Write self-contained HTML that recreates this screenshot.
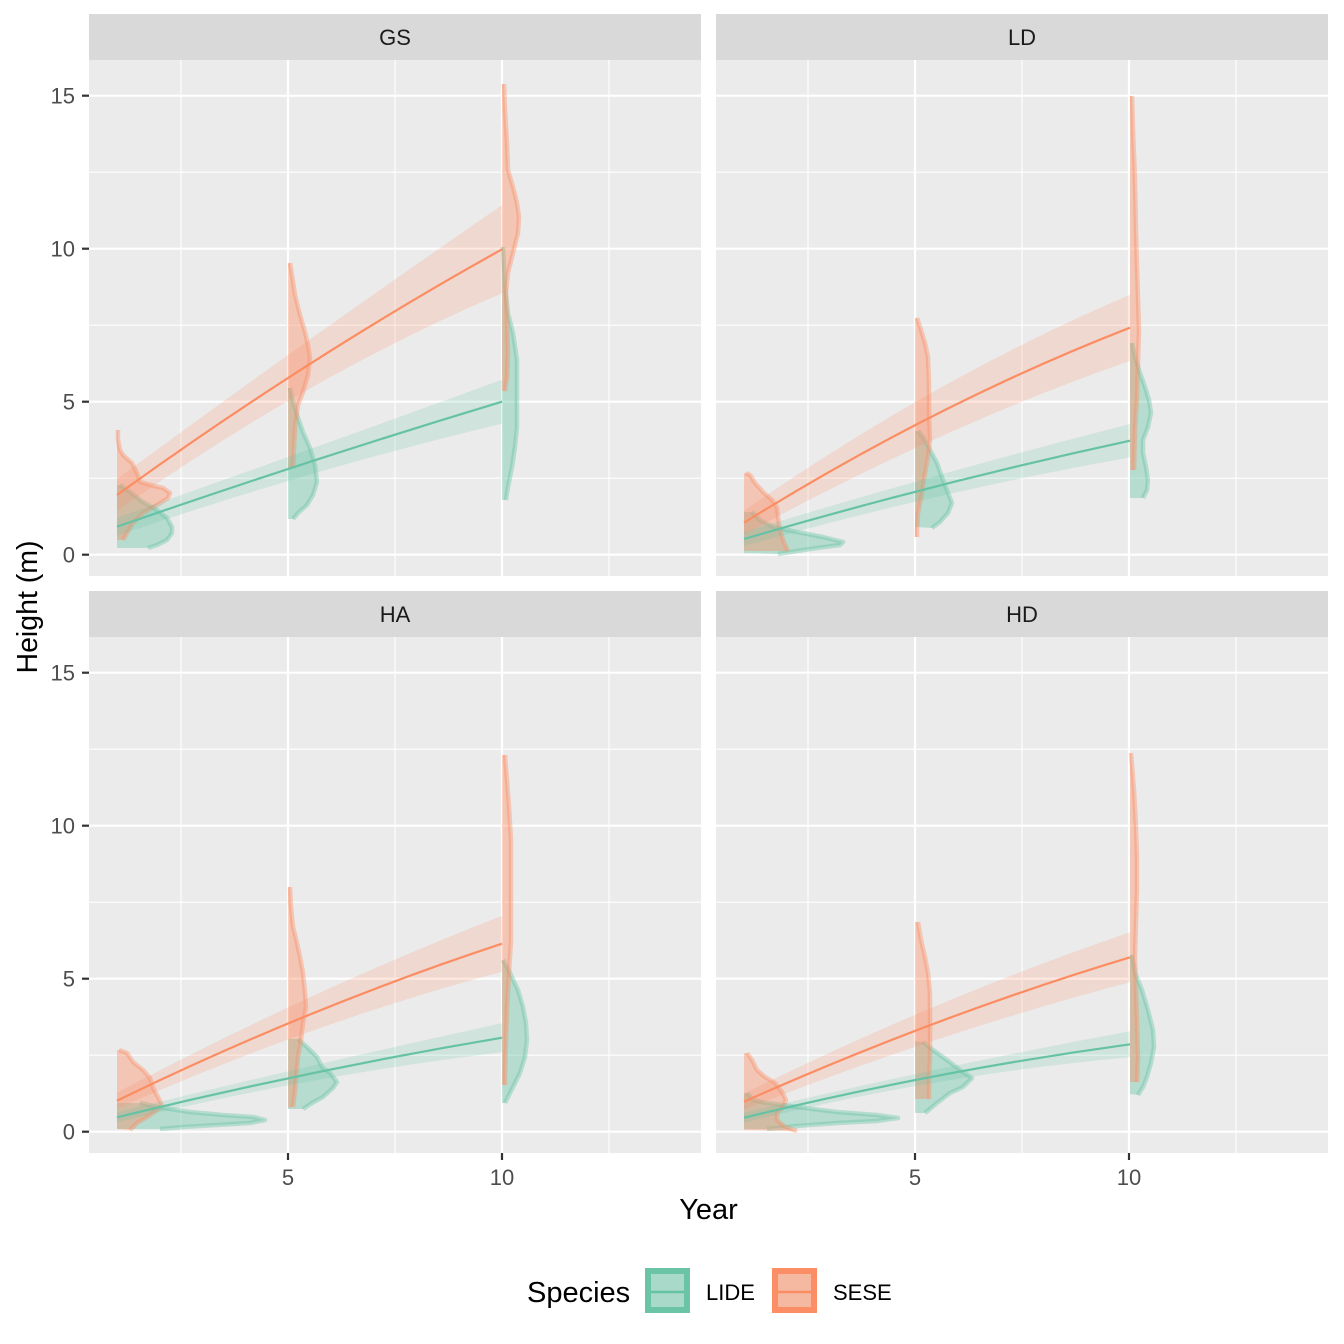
<!DOCTYPE html>
<html>
<head>
<meta charset="utf-8">
<style>
  html, body { margin: 0; padding: 0; background: #ffffff; }
  svg { display: block; }
  text { font-family: "Liberation Sans", Arial, sans-serif; }
</style>
</head>
<body>
<svg width="1344" height="1344" viewBox="0 0 1344 1344" xmlns="http://www.w3.org/2000/svg">
  <defs>
    <g id="panelbg">
      <rect x="0" y="0" width="612" height="516" fill="#EBEBEB"/>
      <g stroke="#FFFFFF" stroke-width="1.1" fill="none">
        <line x1="0" x2="612" y1="418.2" y2="418.2"/>
        <line x1="0" x2="612" y1="265.2" y2="265.2"/>
        <line x1="0" x2="612" y1="112.2" y2="112.2"/>
        <line x1="92" x2="92" y1="0" y2="516"/>
        <line x1="306" x2="306" y1="0" y2="516"/>
        <line x1="520" x2="520" y1="0" y2="516"/>
      </g>
      <g stroke="#FFFFFF" stroke-width="2.2" fill="none">
        <line x1="0" x2="612" y1="494.7" y2="494.7"/>
        <line x1="0" x2="612" y1="341.7" y2="341.7"/>
        <line x1="0" x2="612" y1="188.7" y2="188.7"/>
        <line x1="0" x2="612" y1="35.7" y2="35.7"/>
        <line x1="199" x2="199" y1="0" y2="516"/>
        <line x1="413" x2="413" y1="0" y2="516"/>
      </g>
    </g>
  </defs>

  <!-- Panels -->
  <use href="#panelbg" transform="translate(89,60)"/>
  <use href="#panelbg" transform="translate(716,60)"/>
  <use href="#panelbg" transform="translate(89,637)"/>
  <use href="#panelbg" transform="translate(716,637)"/>

  <!-- Strips -->
  <rect x="89" y="14" width="612" height="46" fill="#D9D9D9"/>
  <rect x="716" y="14" width="612" height="46" fill="#D9D9D9"/>
  <rect x="89" y="591" width="612" height="46" fill="#D9D9D9"/>
  <rect x="716" y="591" width="612" height="46" fill="#D9D9D9"/>
  <g font-size="22" fill="#1A1A1A" text-anchor="middle">
    <text x="395" y="45">GS</text>
    <text x="1022" y="45">LD</text>
    <text x="395" y="622">HA</text>
    <text x="1022" y="622">HD</text>
  </g>

  <!-- Violins: LIDE -->
  <g fill="#66C2A5" fill-opacity="0.4" stroke="none">
    <path d="M117,485 L120,485 130,492 143,502 157,510 167,518 172,527 172,533 167,540 157,545 148,548 L117,548 Z"/>
    <path d="M288,388 L290,388 292,398 297,415 303,432 310,448 315,465 317,482 313,495 307,505 298,513 293,519 L288,519 Z"/>
    <path d="M502,247 L503,247 505,287 508,313 513,333 517,360 517,393 517,427 515,447 512,467 508,487 506,500 L502,500 Z"/>
    <path d="M744,512 L752,512 760,520 773,527 797,532 823,537 843,542 840,545 817,548 797,551 778,554 L744,553 Z"/>
    <path d="M915,431 L918,431 923,437 930,450 937,463 943,480 948,493 952,503 948,513 940,522 932,528 L915,527 Z"/>
    <path d="M1130,343 L1132,343 1135,357 1140,373 1145,387 1149,400 1151,413 1148,427 1143,440 1143,453 1146,467 1148,480 1147,490 1143,498 L1130,498 Z"/>
    <path d="M117,1103 L140,1103 157,1107 190,1112 223,1115 253,1117 265,1120 250,1123 217,1125 183,1127 160,1129 L117,1129 Z"/>
    <path d="M288,1039 L298,1039 307,1047 317,1057 322,1067 330,1073 337,1082 333,1088 323,1097 312,1103 303,1109 L288,1109 Z"/>
    <path d="M502,960 L503,960 510,973 518,990 523,1007 526,1023 527,1040 525,1057 520,1073 513,1087 508,1097 505,1103 L502,1103 Z"/>
    <path d="M744,1093 L747,1093 753,1100 767,1103 797,1107 837,1112 877,1115 898,1118 877,1121 837,1123 797,1126 767,1129 L744,1129 Z"/>
    <path d="M915,1041 L923,1042 933,1050 947,1060 960,1070 972,1078 963,1087 950,1093 937,1103 925,1113 L915,1113 Z"/>
    <path d="M1130,955 L1132,955 1135,973 1142,990 1148,1010 1153,1030 1154,1047 1151,1063 1147,1077 1143,1087 1138,1095 L1130,1094 Z"/>
  </g>
  <g fill="none" stroke="#66C2A5" stroke-opacity="0.4" stroke-width="4.5" stroke-linejoin="round" stroke-linecap="butt">
    <path d="M120,485 130,492 143,502 157,510 167,518 172,527 172,533 167,540 157,545 148,548"/>
    <path d="M290,388 292,398 297,415 303,432 310,448 315,465 317,482 313,495 307,505 298,513 293,519"/>
    <path d="M503,247 505,287 508,313 513,333 517,360 517,393 517,427 515,447 512,467 508,487 506,500"/>
    <path d="M752,512 760,520 773,527 797,532 823,537 843,542 840,545 817,548 797,551 778,554"/>
    <path d="M918,431 923,437 930,450 937,463 943,480 948,493 952,503 948,513 940,522 932,528"/>
    <path d="M1132,343 1135,357 1140,373 1145,387 1149,400 1151,413 1148,427 1143,440 1143,453 1146,467 1148,480 1147,490 1143,498"/>
    <path d="M140,1103 157,1107 190,1112 223,1115 253,1117 265,1120 250,1123 217,1125 183,1127 160,1129"/>
    <path d="M298,1039 307,1047 317,1057 322,1067 330,1073 337,1082 333,1088 323,1097 312,1103 303,1109"/>
    <path d="M503,960 510,973 518,990 523,1007 526,1023 527,1040 525,1057 520,1073 513,1087 508,1097 505,1103"/>
    <path d="M747,1093 753,1100 767,1103 797,1107 837,1112 877,1115 898,1118 877,1121 837,1123 797,1126 767,1129"/>
    <path d="M923,1042 933,1050 947,1060 960,1070 972,1078 963,1087 950,1093 937,1103 925,1113"/>
    <path d="M1132,955 1135,973 1142,990 1148,1010 1153,1030 1154,1047 1151,1063 1147,1077 1143,1087 1138,1095"/>
  </g>

  <!-- Violins: SESE -->
  <g fill="#FC8D62" fill-opacity="0.4" stroke="none">
    <path d="M117,430 L118,430 118,440 120,450 123,455 132,463 137,473 140,482 150,485 163,488 170,493 168,498 157,505 143,513 133,523 127,533 123,540 L117,540 Z"/>
    <path d="M288,263 L290,263 292,275 295,295 300,315 305,332 308,345 310,358 308,375 303,392 298,405 295,428 294,448 293,468 L288,468 Z"/>
    <path d="M502,84 L504,84 505,110 507,143 508,170 513,187 517,203 519,217 518,233 513,253 508,273 506,293 507,320 508,353 507,377 505,391 L502,391 Z"/>
    <path d="M744,473 L746,473 750,475 755,483 763,492 772,500 777,508 778,517 780,530 783,540 788,551 L744,551 Z"/>
    <path d="M915,318 L917,318 920,327 925,343 928,357 929,383 929,417 930,440 928,457 925,473 922,493 918,513 917,530 917,537 L915,537 Z"/>
    <path d="M1130,96 L1132,96 1133,130 1135,180 1136,230 1137,267 1138,297 1139,330 1138,363 1137,397 1135,430 1134,470 L1130,470 Z"/>
    <path d="M117,1050 L119,1050 127,1053 133,1062 143,1070 150,1078 153,1088 158,1097 162,1105 157,1110 147,1117 137,1123 130,1130 L117,1129 Z"/>
    <path d="M288,887 L290,887 291,907 293,927 297,943 300,957 303,973 305,993 306,1007 303,1023 301,1040 298,1057 295,1090 293,1107 L288,1108 Z"/>
    <path d="M502,755 L505,755 507,780 509,807 511,840 511,873 511,907 511,940 509,973 507,1007 506,1040 505,1073 505,1085 L502,1085 Z"/>
    <path d="M744,1053 L747,1053 752,1060 757,1070 765,1077 775,1083 782,1092 786,1100 783,1107 777,1113 777,1120 785,1127 797,1131 L744,1130 Z"/>
    <path d="M915,922 L918,922 921,940 925,957 928,973 930,993 930,1023 930,1057 929,1080 929,1099 L915,1099 Z"/>
    <path d="M1130,753 L1131,753 1134,790 1136,827 1137,857 1137,890 1136,923 1135,957 1136,990 1137,1023 1138,1057 1137,1082 L1130,1082 Z"/>
  </g>
  <g fill="none" stroke="#FC8D62" stroke-opacity="0.4" stroke-width="4.5" stroke-linejoin="round" stroke-linecap="butt">
    <path d="M118,430 118,440 120,450 123,455 132,463 137,473 140,482 150,485 163,488 170,493 168,498 157,505 143,513 133,523 127,533 123,540"/>
    <path d="M290,263 292,275 295,295 300,315 305,332 308,345 310,358 308,375 303,392 298,405 295,428 294,448 293,468"/>
    <path d="M504,84 505,110 507,143 508,170 513,187 517,203 519,217 518,233 513,253 508,273 506,293 507,320 508,353 507,377 505,391"/>
    <path d="M746,473 750,475 755,483 763,492 772,500 777,508 778,517 780,530 783,540 788,551"/>
    <path d="M917,318 920,327 925,343 928,357 929,383 929,417 930,440 928,457 925,473 922,493 918,513 917,530 917,537"/>
    <path d="M1132,96 1133,130 1135,180 1136,230 1137,267 1138,297 1139,330 1138,363 1137,397 1135,430 1134,470"/>
    <path d="M119,1050 127,1053 133,1062 143,1070 150,1078 153,1088 158,1097 162,1105 157,1110 147,1117 137,1123 130,1130"/>
    <path d="M290,887 291,907 293,927 297,943 300,957 303,973 305,993 306,1007 303,1023 301,1040 298,1057 295,1090 293,1107"/>
    <path d="M505,755 507,780 509,807 511,840 511,873 511,907 511,940 509,973 507,1007 506,1040 505,1073 505,1085"/>
    <path d="M747,1053 752,1060 757,1070 765,1077 775,1083 782,1092 786,1100 783,1107 777,1113 777,1120 785,1127 797,1131"/>
    <path d="M918,922 921,940 925,957 928,973 930,993 930,1023 930,1057 929,1080 929,1099"/>
    <path d="M1131,753 1134,790 1136,827 1137,857 1137,890 1136,923 1135,957 1136,990 1137,1023 1138,1057 1137,1082"/>
  </g>

  <!-- Smooth ribbons -->
  <g fill="#66C2A5" fill-opacity="0.2" stroke="none">
    <path d="M117,517.7 Q309.5,449.9 502,379.7 L502,423.7 Q309.5,469.67 117,535.7 Z"/>
    <path d="M744,532 Q937,473.27 1130,424 L1130,457.4 Q937,491.68 744,546 Z"/>
    <path d="M117,1112.3 Q309.5,1064.87 502,1023.2 L502,1052.2 Q309.5,1075.36 117,1122.3 Z"/>
    <path d="M744,1112.7 Q937,1066.83 1130,1031.3 L1130,1057.3 Q937,1074.51 744,1122.7 Z"/>
  </g>
  <g fill="none" stroke="#66C2A5" stroke-width="2.2">
    <path d="M117,526.7 Q309.5,459.8 502,401.7"/>
    <path d="M744,539 Q937,482.48 1130,440.7"/>
    <path d="M117,1117.3 Q309.5,1070.12 502,1037.7"/>
    <path d="M744,1117.7 Q937,1070.69 1130,1044.3"/>
  </g>
  <g fill="#FC8D62" fill-opacity="0.2" stroke="none">
    <path d="M117,479 Q309.5,337.23 502,205.3 L502,293.3 Q309.5,375.2 117,511 Z"/>
    <path d="M744,510.7 Q937,376.84 1130,294.7 L1130,360.7 Q937,428.63 744,534.7 Z"/>
    <path d="M117,1092.7 Q309.5,990.86 502,915.7 L502,971.7 Q309.5,1023.29 117,1108.7 Z"/>
    <path d="M744,1093.7 Q937,998.18 1130,932.3 L1130,982.3 Q937,1033.03 744,1109.7 Z"/>
  </g>
  <g fill="none" stroke="#FC8D62" stroke-width="2.2">
    <path d="M117,495 Q309.5,356.21 502,249.3"/>
    <path d="M744,522.7 Q937,402.75 1130,327.7"/>
    <path d="M117,1100.7 Q309.5,1007.09 502,943.7"/>
    <path d="M744,1101.7 Q937,1015.6 1130,957.3"/>
  </g>

  <!-- Axis ticks -->
  <g stroke="#333333" stroke-width="2.2">
    <line x1="82" x2="89" y1="554.7" y2="554.7"/>
    <line x1="82" x2="89" y1="401.7" y2="401.7"/>
    <line x1="82" x2="89" y1="248.7" y2="248.7"/>
    <line x1="82" x2="89" y1="95.7" y2="95.7"/>
    <line x1="82" x2="89" y1="1131.7" y2="1131.7"/>
    <line x1="82" x2="89" y1="978.7" y2="978.7"/>
    <line x1="82" x2="89" y1="825.7" y2="825.7"/>
    <line x1="82" x2="89" y1="672.7" y2="672.7"/>
    <line x1="288" x2="288" y1="1153" y2="1160"/>
    <line x1="502" x2="502" y1="1153" y2="1160"/>
    <line x1="915" x2="915" y1="1153" y2="1160"/>
    <line x1="1129" x2="1129" y1="1153" y2="1160"/>
  </g>

  <!-- Tick labels -->
  <g font-size="22" fill="#4D4D4D" text-anchor="end">
    <text x="75" y="562.6">0</text>
    <text x="75" y="409.6">5</text>
    <text x="75" y="256.6">10</text>
    <text x="75" y="103.6">15</text>
    <text x="75" y="1139.6">0</text>
    <text x="75" y="986.6">5</text>
    <text x="75" y="833.6">10</text>
    <text x="75" y="680.6">15</text>
  </g>
  <g font-size="22" fill="#4D4D4D" text-anchor="middle">
    <text x="288" y="1185">5</text>
    <text x="502" y="1185">10</text>
    <text x="915" y="1185">5</text>
    <text x="1129" y="1185">10</text>
  </g>

  <!-- Axis titles -->
  <text x="708.5" y="1219" font-size="29" fill="#000000" text-anchor="middle">Year</text>
  <text x="37" y="607" font-size="28.5" fill="#000000" text-anchor="middle" transform="rotate(-90 37 607)">Height (m)</text>

  <!-- Legend -->
  <text x="527" y="1302" font-size="29" fill="#000000">Species</text>
  <rect x="648" y="1271" width="39" height="39" fill="#A9D9C8" stroke="#6CC4A7" stroke-width="6"/>
  <line x1="651" x2="684" y1="1292" y2="1292" stroke="#66C2A5" stroke-width="2.5"/>
  <text x="706" y="1300" font-size="22" fill="#000000">LIDE</text>
  <rect x="775" y="1271" width="39" height="39" fill="#F5B9A2" stroke="#FB8E65" stroke-width="6"/>
  <line x1="778" x2="811" y1="1292" y2="1292" stroke="#FC8D62" stroke-width="2.5"/>
  <text x="833" y="1300" font-size="22" fill="#000000">SESE</text>
</svg>
</body>
</html>
